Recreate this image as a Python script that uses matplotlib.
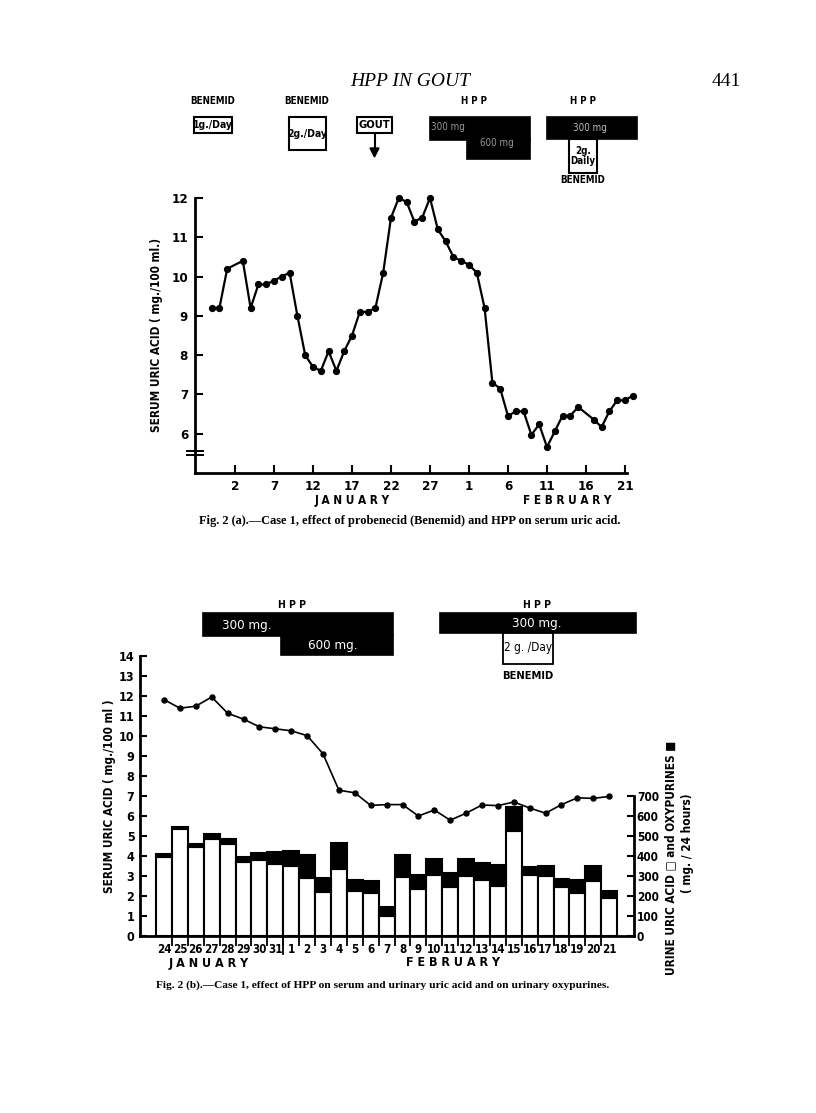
import matplotlib
matplotlib.use('Agg')
import matplotlib.pyplot as plt
from matplotlib.patches import Rectangle, Polygon
from matplotlib.lines import Line2D

# ---------------- data: Fig. 2(a) ----------------
# day number counted from 1 January (February d -> 31 + d)
top_day = [-1, 0, 1, 3, 4, 5, 6, 7, 8, 9, 10, 11, 12, 13, 14, 15, 16, 17, 18, 19,
           20, 21, 22, 23, 24, 25, 26, 27, 28, 29, 30, 31, 32, 33, 34, 35, 36, 37,
           38, 39, 40, 41, 42, 43, 44, 45, 46, 48, 49, 50, 51, 52, 53]
top_serum = [9.2, 9.2, 10.2, 10.4, 9.2, 9.8, 9.8, 9.9, 10.0, 10.1, 9.0, 8.0, 7.7,
             7.6, 8.1, 7.6, 8.1, 8.5, 9.1, 9.1, 9.2, 10.1, 11.5, 12.0, 11.9, 11.4,
             11.5, 12.0, 11.2, 10.9, 10.5, 10.4, 10.3, 10.1, 9.2, 7.3, 7.15, 6.45,
             6.57, 6.57, 5.97, 6.24, 5.66, 6.06, 6.46, 6.46, 6.68, 6.36, 6.17, 6.57,
             6.85, 6.85, 6.97]
top_tick_days = [2, 7, 12, 17, 22, 27, 32, 37, 42, 47, 52]
top_tick_labels = ['2', '7', '12', '17', '22', '27', '1', '6', '11', '16', '21']
top_yticks = [6, 7, 8, 9, 10, 11, 12]

# ---------------- data: Fig. 2(b) ----------------
bot_dates = ['24', '25', '26', '27', '28', '29', '30', '31',
             '1', '2', '3', '4', '5', '6', '7', '8', '9', '10', '11', '12', '13',
             '14', '15', '16', '17', '18', '19', '20', '21']
bot_serum = [11.82, 11.39, 11.49, 11.95, 11.14, 10.84, 10.46, 10.36,
             10.26, 10.02, 9.11, 7.29, 7.16, 6.53, 6.57, 6.57, 6.0, 6.3, 5.79,
             6.14, 6.55, 6.52, 6.70, 6.40, 6.14, 6.57, 6.91, 6.88, 6.98]
urine_uric = [395, 533, 445, 487, 462, 371, 380, 360,
              350, 292, 219, 335, 223, 213, 99, 295, 234, 305, 243, 300, 281,
              248, 525, 305, 300, 243, 213, 277, 188]
oxypurines = [15, 13, 13, 25, 21, 25, 34, 59,
              76, 112, 70, 132, 58, 63, 45, 109, 70, 78, 72, 83, 84,
              107, 120, 38, 50, 42, 68, 73, 35]
bot_yticks = list(range(0, 15))
urine_ticks = [0, 100, 200, 300, 400, 500, 600, 700]

# ---------------- figure helpers ----------------
W, H = 816, 1113
COND = dict(family=['DejaVu Sans'], fontstretch='condensed', weight='bold')
SERIF = ['Liberation Serif', 'DejaVu Serif']

fig = plt.figure(figsize=(W / 100, H / 100), dpi=100)


def fx(x):
    return x / W


def fy(y):
    return 1 - y / H


def ftext(x, y, s, size=8, ha='center', va='center', **kw):
    props = dict(COND)
    props.update(kw)
    fig.text(fx(x), fy(y), s, fontsize=size, ha=ha, va=va, **props)


def frect(x0, y0, x1, y1, fc='black', ec='black', lw=1.2):
    fig.add_artist(Rectangle((fx(x0), fy(y1)), fx(x1) - fx(x0), fy(y0) - fy(y1),
                             transform=fig.transFigure, fc=fc, ec=ec, lw=lw))


# ---------------- page header ----------------
ftext(410, 82, 'HPP IN GOUT', size=14, family=SERIF, weight='normal',
      style='italic', fontstretch='normal')
ftext(726, 82, '441', size=14, family=SERIF, weight='normal', fontstretch='normal')

# ---------------- Fig 2(a) treatment annotations ----------------
ftext(213, 101, 'BENEMID', size=7)
frect(194, 117, 232, 133, fc='white', lw=1.5)
ftext(213, 125, '1g./Day', size=7.5)

ftext(307, 101, 'BENEMID', size=7)
frect(289, 117, 326, 150, fc='white', lw=1.5)
ftext(307, 134, '2g./Day', size=7.5)

frect(357, 117, 392, 133, fc='white', lw=1.5)
ftext(374.5, 125, 'GOUT', size=8)
fig.add_artist(Line2D([fx(374.5), fx(374.5)], [fy(133), fy(150)],
                      transform=fig.transFigure, color='black', lw=1.5))
fig.add_artist(Polygon(
    [(fx(370), fy(148)), (fx(379), fy(148)), (fx(374.5), fy(157))],
    closed=True, transform=fig.transFigure, fc='black', ec='black'))

ftext(474, 101, 'H P P', size=7)
frect(430, 117, 530, 140)
frect(467, 139, 530, 159)
ftext(448, 127, '300 mg', size=7, weight='normal', color='#9a9a9a')
ftext(497, 143, '600 mg', size=7, weight='normal', color='#9a9a9a')

ftext(583, 101, 'H P P', size=7)
frect(547, 117, 637, 139)
ftext(590, 128, '300 mg', size=7, weight='normal', color='#bdbdbd')
frect(569, 139, 597, 173, fc='white', lw=1.5)
ftext(583, 156, '2g.\nDaily', size=7, linespacing=1.1)
ftext(583, 180, 'BENEMID', size=7)

# ---------------- Fig 2(a) chart ----------------
ax1 = fig.add_axes([fx(195), fy(473), (627 - 195) / W, (473 - 198) / H])
ax1.plot(top_day, top_serum, color='black', lw=1.6, marker='o', ms=4.2,
         clip_on=False, zorder=3)
ax1.set_xlim(-3.13, 52.26)
ax1.set_ylim(5, 12)
for s in ['top', 'right']:
    ax1.spines[s].set_visible(False)
for s in ['left', 'bottom']:
    ax1.spines[s].set_linewidth(2)
ax1.set_yticks(top_yticks)
ax1.set_yticklabels([str(v) for v in top_yticks], fontsize=9.5, **COND)
ax1.set_xticks(top_tick_days)
ax1.set_xticklabels(top_tick_labels, fontsize=9.5, **COND)
ax1.tick_params(axis='both', direction='in', length=6, width=1.5, pad=5)
# axis break marks
btr = ax1.get_yaxis_transform()
for yb in (5.47, 5.56):
    ax1.plot([-0.018, 0.018], [yb, yb], transform=btr, color='black', lw=1.4,
             clip_on=False)
ax1.set_ylabel('SERUM URIC ACID ( mg./100 ml.)', fontsize=8.5, labelpad=6, **COND)
ftext(352, 500, 'J A N U A R Y', size=8.5)
ftext(567, 501, 'F E B R U A R Y', size=8.5)
ftext(410, 521, 'Fig. 2 (a).\u2014Case 1, effect of probenecid (Benemid) and HPP on serum uric acid.',
      size=8.9, family=SERIF, weight='bold', fontstretch='normal')

# ---------------- Fig 2(b) treatment annotations ----------------
ftext(292, 605, 'H P P', size=7.5)
frect(203, 613, 393, 636)
frect(281, 635, 393, 655)
ftext(247, 625, '300 mg.', size=9.5, weight='normal', color='white')
ftext(333, 645, '600 mg.', size=9.5, weight='normal', color='white')

ftext(537, 605, 'H P P', size=7.5)
frect(440, 613, 636, 633)
ftext(537, 623, '300 mg.', size=9.5, weight='normal', color='white')
frect(503, 633, 553, 664, fc='white', lw=1.3)
ftext(528, 648, '2 g. /Day', size=8.5, weight='normal')
ftext(528, 676, 'BENEMID', size=8)

# ---------------- Fig 2(b) chart ----------------
x = list(range(len(bot_dates)))
ax = fig.add_axes([fx(140), fy(936), (634 - 140) / W, 280 / H])
axr = ax.twinx()
axr.bar(x, urine_uric, width=1.0, color='white', edgecolor='black', lw=1.5, zorder=2)
axr.bar(x, oxypurines, bottom=urine_uric, width=1.0, color='black',
        edgecolor='black', lw=1.5, zorder=2)
ax.set_zorder(axr.get_zorder() + 1)
ax.patch.set_visible(False)
ax.plot(x, bot_serum, color='black', lw=1.2, marker='o', ms=3.6, zorder=4)

ax.set_xlim(-1.51, 29.56)
ax.set_ylim(0, 14)
axr.set_ylim(0, 1400)
for a in (ax, axr):
    a.spines['top'].set_visible(False)
ax.spines['right'].set_visible(False)
axr.spines['left'].set_visible(False)
axr.spines['bottom'].set_visible(False)
ax.spines['left'].set_linewidth(2)
ax.spines['bottom'].set_linewidth(2)
axr.spines['right'].set_linewidth(2)
axr.spines['right'].set_bounds(0, 700)

ax.set_yticks(bot_yticks)
ax.set_yticklabels([str(v) for v in bot_yticks], fontsize=9, **COND)
ax.tick_params(axis='y', direction='in', length=5, width=1.5, pad=4)
axr.set_yticks(urine_ticks)
axr.set_yticklabels([str(v) for v in urine_ticks], fontsize=8.5, **COND)
axr.tick_params(axis='y', direction='in', length=5, width=1.5, pad=2)

ax.set_xticks(x)
ax.set_xticklabels(bot_dates, fontsize=8.3, **COND)
ax.tick_params(axis='x', which='major', length=0, pad=5)
ax.set_xticks([i + 0.5 for i in x[:-1]], minor=True)
ax.tick_params(axis='x', which='minor', direction='out', length=7, width=1.3)
# month separator line between 31 Jan and 1 Feb
sep = bot_dates.index('1') - 0.5
ax.plot([sep, sep], [0, -0.9], color='black', lw=1.3, clip_on=False)

ax.set_ylabel('SERUM URIC ACID ( mg./100 ml )', fontsize=8.5, labelpad=2, **COND)
ftext(209, 963, 'J A N U A R Y', size=9)
ftext(453, 963, 'F E B R U A R Y', size=9)

ftext(671, 858, 'URINE URIC ACID \u25a1 and OXYPURINES \u25a0', size=8.5,
      rotation=90)
ftext(688, 843, '( mg. / 24 hours)', size=8.5, rotation=90)

ftext(383, 985, 'Fig. 2 (b).\u2014Case 1, effect of HPP on serum and urinary uric acid and on urinary oxypurines.',
      size=8.2, family=SERIF, weight='bold', fontstretch='normal')

fig.savefig('out.png', dpi=100)
